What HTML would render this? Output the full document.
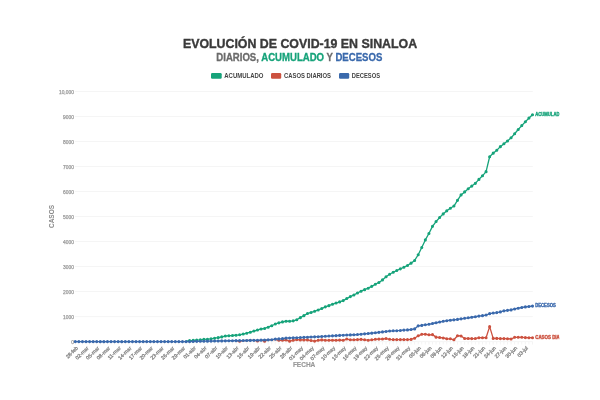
<!DOCTYPE html>
<html><head><meta charset="utf-8"><style>
html,body{margin:0;padding:0;background:#fff;width:600px;height:400px;overflow:hidden}
svg{display:block;will-change:transform}
text{font-family:"Liberation Sans", sans-serif}
</style></head><body>
<svg width="600" height="400" viewBox="0 0 600 400">
<rect width="600" height="400" fill="#fff"/>
<text x="300" y="47.8" text-anchor="middle" font-size="13.7" font-weight="bold" fill="#3a3a3a" stroke="#3a3a3a" stroke-width="0.4" textLength="234.2" lengthAdjust="spacingAndGlyphs">EVOLUCIÓN DE COVID-19 EN SINALOA</text>
<text x="216.3" y="61.4" font-size="10.3" font-weight="bold" fill="#6b6b6b" stroke="#6b6b6b" stroke-width="0.3" textLength="166" lengthAdjust="spacingAndGlyphs">DIARIOS, <tspan fill="#16A37A" stroke="#16A37A">ACUMULADO</tspan> Y <tspan fill="#3A69AC" stroke="#3A69AC">DECESOS</tspan></text>
<rect x="211" y="73" width="10.7" height="5.7" rx="1.2" fill="#16A37A"/>
<rect x="271" y="73" width="10.2" height="5.7" rx="1.2" fill="#CC513F"/>
<rect x="339" y="73" width="10.2" height="5.7" rx="1.2" fill="#3A69AC"/>
<text x="224.3" y="78.3" font-size="6.6" font-weight="bold" fill="#444" textLength="39.2" lengthAdjust="spacingAndGlyphs">ACUMULADO</text>
<text x="284" y="78.3" font-size="6.6" font-weight="bold" fill="#444" textLength="47" lengthAdjust="spacingAndGlyphs">CASOS DIARIOS</text>
<text x="351.8" y="78.3" font-size="6.6" font-weight="bold" fill="#444" textLength="28.2" lengthAdjust="spacingAndGlyphs">DECESOS</text>
<text transform="translate(54,216.5) rotate(-90)" text-anchor="middle" font-size="7.4" font-weight="bold" fill="#8a8a8a" textLength="23" lengthAdjust="spacingAndGlyphs">CASOS</text>
<text x="292.9" y="366.8" font-size="7.6" font-weight="bold" fill="#999" stroke="#999" stroke-width="0.2" textLength="22.4" lengthAdjust="spacingAndGlyphs">FECHA</text>
<line x1="75" y1="341.62" x2="532.8" y2="341.62" stroke="#f5f5f5" stroke-width="1"/>
<line x1="75" y1="316.60" x2="532.8" y2="316.60" stroke="#f5f5f5" stroke-width="1"/>
<line x1="75" y1="291.59" x2="532.8" y2="291.59" stroke="#f5f5f5" stroke-width="1"/>
<line x1="75" y1="266.57" x2="532.8" y2="266.57" stroke="#f5f5f5" stroke-width="1"/>
<line x1="75" y1="241.55" x2="532.8" y2="241.55" stroke="#f5f5f5" stroke-width="1"/>
<line x1="75" y1="216.53" x2="532.8" y2="216.53" stroke="#f5f5f5" stroke-width="1"/>
<line x1="75" y1="191.52" x2="532.8" y2="191.52" stroke="#f5f5f5" stroke-width="1"/>
<line x1="75" y1="166.50" x2="532.8" y2="166.50" stroke="#f5f5f5" stroke-width="1"/>
<line x1="75" y1="141.48" x2="532.8" y2="141.48" stroke="#f5f5f5" stroke-width="1"/>
<line x1="75" y1="116.47" x2="532.8" y2="116.47" stroke="#f5f5f5" stroke-width="1"/>
<line x1="75" y1="91.45" x2="532.8" y2="91.45" stroke="#f5f5f5" stroke-width="1"/>
<text x="73.9" y="344.12" text-anchor="end" font-size="4.9" fill="#9a9a9a" stroke="#9a9a9a" stroke-width="0.25">0</text>
<text x="73.9" y="319.10" text-anchor="end" font-size="4.9" fill="#9a9a9a" stroke="#9a9a9a" stroke-width="0.25">1000</text>
<text x="73.9" y="294.09" text-anchor="end" font-size="4.9" fill="#9a9a9a" stroke="#9a9a9a" stroke-width="0.25">2000</text>
<text x="73.9" y="269.07" text-anchor="end" font-size="4.9" fill="#9a9a9a" stroke="#9a9a9a" stroke-width="0.25">3000</text>
<text x="73.9" y="244.05" text-anchor="end" font-size="4.9" fill="#9a9a9a" stroke="#9a9a9a" stroke-width="0.25">4000</text>
<text x="73.9" y="219.03" text-anchor="end" font-size="4.9" fill="#9a9a9a" stroke="#9a9a9a" stroke-width="0.25">5000</text>
<text x="73.9" y="194.02" text-anchor="end" font-size="4.9" fill="#9a9a9a" stroke="#9a9a9a" stroke-width="0.25">6000</text>
<text x="73.9" y="169.00" text-anchor="end" font-size="4.9" fill="#9a9a9a" stroke="#9a9a9a" stroke-width="0.25">7000</text>
<text x="73.9" y="143.98" text-anchor="end" font-size="4.9" fill="#9a9a9a" stroke="#9a9a9a" stroke-width="0.25">8000</text>
<text x="73.9" y="118.97" text-anchor="end" font-size="4.9" fill="#9a9a9a" stroke="#9a9a9a" stroke-width="0.25">9000</text>
<text x="73.9" y="93.95" text-anchor="end" font-size="4.9" fill="#9a9a9a" stroke="#9a9a9a" stroke-width="0.25">10,000</text>
<line x1="75.30" y1="342.0" x2="75.30" y2="344.5" stroke="#ececec" stroke-width="0.6"/>
<line x1="78.87" y1="342.0" x2="78.87" y2="344.5" stroke="#ececec" stroke-width="0.6"/>
<line x1="82.44" y1="342.0" x2="82.44" y2="344.5" stroke="#ececec" stroke-width="0.6"/>
<line x1="86.02" y1="342.0" x2="86.02" y2="344.5" stroke="#ececec" stroke-width="0.6"/>
<line x1="89.59" y1="342.0" x2="89.59" y2="344.5" stroke="#ececec" stroke-width="0.6"/>
<line x1="93.16" y1="342.0" x2="93.16" y2="344.5" stroke="#ececec" stroke-width="0.6"/>
<line x1="96.73" y1="342.0" x2="96.73" y2="344.5" stroke="#ececec" stroke-width="0.6"/>
<line x1="100.30" y1="342.0" x2="100.30" y2="344.5" stroke="#ececec" stroke-width="0.6"/>
<line x1="103.88" y1="342.0" x2="103.88" y2="344.5" stroke="#ececec" stroke-width="0.6"/>
<line x1="107.45" y1="342.0" x2="107.45" y2="344.5" stroke="#ececec" stroke-width="0.6"/>
<line x1="111.02" y1="342.0" x2="111.02" y2="344.5" stroke="#ececec" stroke-width="0.6"/>
<line x1="114.59" y1="342.0" x2="114.59" y2="344.5" stroke="#ececec" stroke-width="0.6"/>
<line x1="118.16" y1="342.0" x2="118.16" y2="344.5" stroke="#ececec" stroke-width="0.6"/>
<line x1="121.73" y1="342.0" x2="121.73" y2="344.5" stroke="#ececec" stroke-width="0.6"/>
<line x1="125.31" y1="342.0" x2="125.31" y2="344.5" stroke="#ececec" stroke-width="0.6"/>
<line x1="128.88" y1="342.0" x2="128.88" y2="344.5" stroke="#ececec" stroke-width="0.6"/>
<line x1="132.45" y1="342.0" x2="132.45" y2="344.5" stroke="#ececec" stroke-width="0.6"/>
<line x1="136.02" y1="342.0" x2="136.02" y2="344.5" stroke="#ececec" stroke-width="0.6"/>
<line x1="139.59" y1="342.0" x2="139.59" y2="344.5" stroke="#ececec" stroke-width="0.6"/>
<line x1="143.17" y1="342.0" x2="143.17" y2="344.5" stroke="#ececec" stroke-width="0.6"/>
<line x1="146.74" y1="342.0" x2="146.74" y2="344.5" stroke="#ececec" stroke-width="0.6"/>
<line x1="150.31" y1="342.0" x2="150.31" y2="344.5" stroke="#ececec" stroke-width="0.6"/>
<line x1="153.88" y1="342.0" x2="153.88" y2="344.5" stroke="#ececec" stroke-width="0.6"/>
<line x1="157.45" y1="342.0" x2="157.45" y2="344.5" stroke="#ececec" stroke-width="0.6"/>
<line x1="161.02" y1="342.0" x2="161.02" y2="344.5" stroke="#ececec" stroke-width="0.6"/>
<line x1="164.60" y1="342.0" x2="164.60" y2="344.5" stroke="#ececec" stroke-width="0.6"/>
<line x1="168.17" y1="342.0" x2="168.17" y2="344.5" stroke="#ececec" stroke-width="0.6"/>
<line x1="171.74" y1="342.0" x2="171.74" y2="344.5" stroke="#ececec" stroke-width="0.6"/>
<line x1="175.31" y1="342.0" x2="175.31" y2="344.5" stroke="#ececec" stroke-width="0.6"/>
<line x1="178.88" y1="342.0" x2="178.88" y2="344.5" stroke="#ececec" stroke-width="0.6"/>
<line x1="182.46" y1="342.0" x2="182.46" y2="344.5" stroke="#ececec" stroke-width="0.6"/>
<line x1="186.03" y1="342.0" x2="186.03" y2="344.5" stroke="#ececec" stroke-width="0.6"/>
<line x1="189.60" y1="342.0" x2="189.60" y2="344.5" stroke="#ececec" stroke-width="0.6"/>
<line x1="193.17" y1="342.0" x2="193.17" y2="344.5" stroke="#ececec" stroke-width="0.6"/>
<line x1="196.74" y1="342.0" x2="196.74" y2="344.5" stroke="#ececec" stroke-width="0.6"/>
<line x1="200.32" y1="342.0" x2="200.32" y2="344.5" stroke="#ececec" stroke-width="0.6"/>
<line x1="203.89" y1="342.0" x2="203.89" y2="344.5" stroke="#ececec" stroke-width="0.6"/>
<line x1="207.46" y1="342.0" x2="207.46" y2="344.5" stroke="#ececec" stroke-width="0.6"/>
<line x1="211.03" y1="342.0" x2="211.03" y2="344.5" stroke="#ececec" stroke-width="0.6"/>
<line x1="214.60" y1="342.0" x2="214.60" y2="344.5" stroke="#ececec" stroke-width="0.6"/>
<line x1="218.18" y1="342.0" x2="218.18" y2="344.5" stroke="#ececec" stroke-width="0.6"/>
<line x1="221.75" y1="342.0" x2="221.75" y2="344.5" stroke="#ececec" stroke-width="0.6"/>
<line x1="225.32" y1="342.0" x2="225.32" y2="344.5" stroke="#ececec" stroke-width="0.6"/>
<line x1="228.89" y1="342.0" x2="228.89" y2="344.5" stroke="#ececec" stroke-width="0.6"/>
<line x1="232.46" y1="342.0" x2="232.46" y2="344.5" stroke="#ececec" stroke-width="0.6"/>
<line x1="236.03" y1="342.0" x2="236.03" y2="344.5" stroke="#ececec" stroke-width="0.6"/>
<line x1="239.61" y1="342.0" x2="239.61" y2="344.5" stroke="#ececec" stroke-width="0.6"/>
<line x1="243.18" y1="342.0" x2="243.18" y2="344.5" stroke="#ececec" stroke-width="0.6"/>
<line x1="246.75" y1="342.0" x2="246.75" y2="344.5" stroke="#ececec" stroke-width="0.6"/>
<line x1="250.32" y1="342.0" x2="250.32" y2="344.5" stroke="#ececec" stroke-width="0.6"/>
<line x1="253.89" y1="342.0" x2="253.89" y2="344.5" stroke="#ececec" stroke-width="0.6"/>
<line x1="257.47" y1="342.0" x2="257.47" y2="344.5" stroke="#ececec" stroke-width="0.6"/>
<line x1="261.04" y1="342.0" x2="261.04" y2="344.5" stroke="#ececec" stroke-width="0.6"/>
<line x1="264.61" y1="342.0" x2="264.61" y2="344.5" stroke="#ececec" stroke-width="0.6"/>
<line x1="268.18" y1="342.0" x2="268.18" y2="344.5" stroke="#ececec" stroke-width="0.6"/>
<line x1="271.75" y1="342.0" x2="271.75" y2="344.5" stroke="#ececec" stroke-width="0.6"/>
<line x1="275.32" y1="342.0" x2="275.32" y2="344.5" stroke="#ececec" stroke-width="0.6"/>
<line x1="278.90" y1="342.0" x2="278.90" y2="344.5" stroke="#ececec" stroke-width="0.6"/>
<line x1="282.47" y1="342.0" x2="282.47" y2="344.5" stroke="#ececec" stroke-width="0.6"/>
<line x1="286.04" y1="342.0" x2="286.04" y2="344.5" stroke="#ececec" stroke-width="0.6"/>
<line x1="289.61" y1="342.0" x2="289.61" y2="344.5" stroke="#ececec" stroke-width="0.6"/>
<line x1="293.18" y1="342.0" x2="293.18" y2="344.5" stroke="#ececec" stroke-width="0.6"/>
<line x1="296.76" y1="342.0" x2="296.76" y2="344.5" stroke="#ececec" stroke-width="0.6"/>
<line x1="300.33" y1="342.0" x2="300.33" y2="344.5" stroke="#ececec" stroke-width="0.6"/>
<line x1="303.90" y1="342.0" x2="303.90" y2="344.5" stroke="#ececec" stroke-width="0.6"/>
<line x1="307.47" y1="342.0" x2="307.47" y2="344.5" stroke="#ececec" stroke-width="0.6"/>
<line x1="311.04" y1="342.0" x2="311.04" y2="344.5" stroke="#ececec" stroke-width="0.6"/>
<line x1="314.62" y1="342.0" x2="314.62" y2="344.5" stroke="#ececec" stroke-width="0.6"/>
<line x1="318.19" y1="342.0" x2="318.19" y2="344.5" stroke="#ececec" stroke-width="0.6"/>
<line x1="321.76" y1="342.0" x2="321.76" y2="344.5" stroke="#ececec" stroke-width="0.6"/>
<line x1="325.33" y1="342.0" x2="325.33" y2="344.5" stroke="#ececec" stroke-width="0.6"/>
<line x1="328.90" y1="342.0" x2="328.90" y2="344.5" stroke="#ececec" stroke-width="0.6"/>
<line x1="332.48" y1="342.0" x2="332.48" y2="344.5" stroke="#ececec" stroke-width="0.6"/>
<line x1="336.05" y1="342.0" x2="336.05" y2="344.5" stroke="#ececec" stroke-width="0.6"/>
<line x1="339.62" y1="342.0" x2="339.62" y2="344.5" stroke="#ececec" stroke-width="0.6"/>
<line x1="343.19" y1="342.0" x2="343.19" y2="344.5" stroke="#ececec" stroke-width="0.6"/>
<line x1="346.76" y1="342.0" x2="346.76" y2="344.5" stroke="#ececec" stroke-width="0.6"/>
<line x1="350.33" y1="342.0" x2="350.33" y2="344.5" stroke="#ececec" stroke-width="0.6"/>
<line x1="353.91" y1="342.0" x2="353.91" y2="344.5" stroke="#ececec" stroke-width="0.6"/>
<line x1="357.48" y1="342.0" x2="357.48" y2="344.5" stroke="#ececec" stroke-width="0.6"/>
<line x1="361.05" y1="342.0" x2="361.05" y2="344.5" stroke="#ececec" stroke-width="0.6"/>
<line x1="364.62" y1="342.0" x2="364.62" y2="344.5" stroke="#ececec" stroke-width="0.6"/>
<line x1="368.19" y1="342.0" x2="368.19" y2="344.5" stroke="#ececec" stroke-width="0.6"/>
<line x1="371.77" y1="342.0" x2="371.77" y2="344.5" stroke="#ececec" stroke-width="0.6"/>
<line x1="375.34" y1="342.0" x2="375.34" y2="344.5" stroke="#ececec" stroke-width="0.6"/>
<line x1="378.91" y1="342.0" x2="378.91" y2="344.5" stroke="#ececec" stroke-width="0.6"/>
<line x1="382.48" y1="342.0" x2="382.48" y2="344.5" stroke="#ececec" stroke-width="0.6"/>
<line x1="386.05" y1="342.0" x2="386.05" y2="344.5" stroke="#ececec" stroke-width="0.6"/>
<line x1="389.62" y1="342.0" x2="389.62" y2="344.5" stroke="#ececec" stroke-width="0.6"/>
<line x1="393.20" y1="342.0" x2="393.20" y2="344.5" stroke="#ececec" stroke-width="0.6"/>
<line x1="396.77" y1="342.0" x2="396.77" y2="344.5" stroke="#ececec" stroke-width="0.6"/>
<line x1="400.34" y1="342.0" x2="400.34" y2="344.5" stroke="#ececec" stroke-width="0.6"/>
<line x1="403.91" y1="342.0" x2="403.91" y2="344.5" stroke="#ececec" stroke-width="0.6"/>
<line x1="407.48" y1="342.0" x2="407.48" y2="344.5" stroke="#ececec" stroke-width="0.6"/>
<line x1="411.06" y1="342.0" x2="411.06" y2="344.5" stroke="#ececec" stroke-width="0.6"/>
<line x1="414.63" y1="342.0" x2="414.63" y2="344.5" stroke="#ececec" stroke-width="0.6"/>
<line x1="418.20" y1="342.0" x2="418.20" y2="344.5" stroke="#ececec" stroke-width="0.6"/>
<line x1="421.77" y1="342.0" x2="421.77" y2="344.5" stroke="#ececec" stroke-width="0.6"/>
<line x1="425.34" y1="342.0" x2="425.34" y2="344.5" stroke="#ececec" stroke-width="0.6"/>
<line x1="428.92" y1="342.0" x2="428.92" y2="344.5" stroke="#ececec" stroke-width="0.6"/>
<line x1="432.49" y1="342.0" x2="432.49" y2="344.5" stroke="#ececec" stroke-width="0.6"/>
<line x1="436.06" y1="342.0" x2="436.06" y2="344.5" stroke="#ececec" stroke-width="0.6"/>
<line x1="439.63" y1="342.0" x2="439.63" y2="344.5" stroke="#ececec" stroke-width="0.6"/>
<line x1="443.20" y1="342.0" x2="443.20" y2="344.5" stroke="#ececec" stroke-width="0.6"/>
<line x1="446.77" y1="342.0" x2="446.77" y2="344.5" stroke="#ececec" stroke-width="0.6"/>
<line x1="450.35" y1="342.0" x2="450.35" y2="344.5" stroke="#ececec" stroke-width="0.6"/>
<line x1="453.92" y1="342.0" x2="453.92" y2="344.5" stroke="#ececec" stroke-width="0.6"/>
<line x1="457.49" y1="342.0" x2="457.49" y2="344.5" stroke="#ececec" stroke-width="0.6"/>
<line x1="461.06" y1="342.0" x2="461.06" y2="344.5" stroke="#ececec" stroke-width="0.6"/>
<line x1="464.63" y1="342.0" x2="464.63" y2="344.5" stroke="#ececec" stroke-width="0.6"/>
<line x1="468.21" y1="342.0" x2="468.21" y2="344.5" stroke="#ececec" stroke-width="0.6"/>
<line x1="471.78" y1="342.0" x2="471.78" y2="344.5" stroke="#ececec" stroke-width="0.6"/>
<line x1="475.35" y1="342.0" x2="475.35" y2="344.5" stroke="#ececec" stroke-width="0.6"/>
<line x1="478.92" y1="342.0" x2="478.92" y2="344.5" stroke="#ececec" stroke-width="0.6"/>
<line x1="482.49" y1="342.0" x2="482.49" y2="344.5" stroke="#ececec" stroke-width="0.6"/>
<line x1="486.07" y1="342.0" x2="486.07" y2="344.5" stroke="#ececec" stroke-width="0.6"/>
<line x1="489.64" y1="342.0" x2="489.64" y2="344.5" stroke="#ececec" stroke-width="0.6"/>
<line x1="493.21" y1="342.0" x2="493.21" y2="344.5" stroke="#ececec" stroke-width="0.6"/>
<line x1="496.78" y1="342.0" x2="496.78" y2="344.5" stroke="#ececec" stroke-width="0.6"/>
<line x1="500.35" y1="342.0" x2="500.35" y2="344.5" stroke="#ececec" stroke-width="0.6"/>
<line x1="503.93" y1="342.0" x2="503.93" y2="344.5" stroke="#ececec" stroke-width="0.6"/>
<line x1="507.50" y1="342.0" x2="507.50" y2="344.5" stroke="#ececec" stroke-width="0.6"/>
<line x1="511.07" y1="342.0" x2="511.07" y2="344.5" stroke="#ececec" stroke-width="0.6"/>
<line x1="514.64" y1="342.0" x2="514.64" y2="344.5" stroke="#ececec" stroke-width="0.6"/>
<line x1="518.21" y1="342.0" x2="518.21" y2="344.5" stroke="#ececec" stroke-width="0.6"/>
<line x1="521.78" y1="342.0" x2="521.78" y2="344.5" stroke="#ececec" stroke-width="0.6"/>
<line x1="525.36" y1="342.0" x2="525.36" y2="344.5" stroke="#ececec" stroke-width="0.6"/>
<line x1="528.93" y1="342.0" x2="528.93" y2="344.5" stroke="#ececec" stroke-width="0.6"/>
<line x1="532.50" y1="342.0" x2="532.50" y2="344.5" stroke="#ececec" stroke-width="0.6"/>
<text transform="translate(78.30,348.40) rotate(-45)" text-anchor="end" font-size="5.2" fill="#868686" stroke="#868686" stroke-width="0.3">28-feb</text>
<text transform="translate(89.02,348.40) rotate(-45)" text-anchor="end" font-size="5.2" fill="#868686" stroke="#868686" stroke-width="0.3">02-mar</text>
<text transform="translate(99.73,348.40) rotate(-45)" text-anchor="end" font-size="5.2" fill="#868686" stroke="#868686" stroke-width="0.3">05-mar</text>
<text transform="translate(110.45,348.40) rotate(-45)" text-anchor="end" font-size="5.2" fill="#868686" stroke="#868686" stroke-width="0.3">08-mar</text>
<text transform="translate(121.16,348.40) rotate(-45)" text-anchor="end" font-size="5.2" fill="#868686" stroke="#868686" stroke-width="0.3">11-mar</text>
<text transform="translate(131.88,348.40) rotate(-45)" text-anchor="end" font-size="5.2" fill="#868686" stroke="#868686" stroke-width="0.3">14-mar</text>
<text transform="translate(142.59,348.40) rotate(-45)" text-anchor="end" font-size="5.2" fill="#868686" stroke="#868686" stroke-width="0.3">17-mar</text>
<text transform="translate(153.31,348.40) rotate(-45)" text-anchor="end" font-size="5.2" fill="#868686" stroke="#868686" stroke-width="0.3">20-mar</text>
<text transform="translate(164.02,348.40) rotate(-45)" text-anchor="end" font-size="5.2" fill="#868686" stroke="#868686" stroke-width="0.3">23-mar</text>
<text transform="translate(174.74,348.40) rotate(-45)" text-anchor="end" font-size="5.2" fill="#868686" stroke="#868686" stroke-width="0.3">26-mar</text>
<text transform="translate(185.46,348.40) rotate(-45)" text-anchor="end" font-size="5.2" fill="#868686" stroke="#868686" stroke-width="0.3">29-mar</text>
<text transform="translate(196.17,348.40) rotate(-45)" text-anchor="end" font-size="5.2" fill="#868686" stroke="#868686" stroke-width="0.3">01-abr</text>
<text transform="translate(206.89,348.40) rotate(-45)" text-anchor="end" font-size="5.2" fill="#868686" stroke="#868686" stroke-width="0.3">04-abr</text>
<text transform="translate(217.60,348.40) rotate(-45)" text-anchor="end" font-size="5.2" fill="#868686" stroke="#868686" stroke-width="0.3">07-abr</text>
<text transform="translate(228.32,348.40) rotate(-45)" text-anchor="end" font-size="5.2" fill="#868686" stroke="#868686" stroke-width="0.3">10-abr</text>
<text transform="translate(239.03,348.40) rotate(-45)" text-anchor="end" font-size="5.2" fill="#868686" stroke="#868686" stroke-width="0.3">13-abr</text>
<text transform="translate(249.75,348.40) rotate(-45)" text-anchor="end" font-size="5.2" fill="#868686" stroke="#868686" stroke-width="0.3">16-abr</text>
<text transform="translate(260.47,348.40) rotate(-45)" text-anchor="end" font-size="5.2" fill="#868686" stroke="#868686" stroke-width="0.3">19-abr</text>
<text transform="translate(271.18,348.40) rotate(-45)" text-anchor="end" font-size="5.2" fill="#868686" stroke="#868686" stroke-width="0.3">22-abr</text>
<text transform="translate(281.90,348.40) rotate(-45)" text-anchor="end" font-size="5.2" fill="#868686" stroke="#868686" stroke-width="0.3">25-abr</text>
<text transform="translate(292.61,348.40) rotate(-45)" text-anchor="end" font-size="5.2" fill="#868686" stroke="#868686" stroke-width="0.3">28-abr</text>
<text transform="translate(303.33,348.40) rotate(-45)" text-anchor="end" font-size="5.2" fill="#868686" stroke="#868686" stroke-width="0.3">01-may</text>
<text transform="translate(314.04,348.40) rotate(-45)" text-anchor="end" font-size="5.2" fill="#868686" stroke="#868686" stroke-width="0.3">04-may</text>
<text transform="translate(324.76,348.40) rotate(-45)" text-anchor="end" font-size="5.2" fill="#868686" stroke="#868686" stroke-width="0.3">07-may</text>
<text transform="translate(335.48,348.40) rotate(-45)" text-anchor="end" font-size="5.2" fill="#868686" stroke="#868686" stroke-width="0.3">10-may</text>
<text transform="translate(346.19,348.40) rotate(-45)" text-anchor="end" font-size="5.2" fill="#868686" stroke="#868686" stroke-width="0.3">13-may</text>
<text transform="translate(356.91,348.40) rotate(-45)" text-anchor="end" font-size="5.2" fill="#868686" stroke="#868686" stroke-width="0.3">16-may</text>
<text transform="translate(367.62,348.40) rotate(-45)" text-anchor="end" font-size="5.2" fill="#868686" stroke="#868686" stroke-width="0.3">19-may</text>
<text transform="translate(378.34,348.40) rotate(-45)" text-anchor="end" font-size="5.2" fill="#868686" stroke="#868686" stroke-width="0.3">22-may</text>
<text transform="translate(389.05,348.40) rotate(-45)" text-anchor="end" font-size="5.2" fill="#868686" stroke="#868686" stroke-width="0.3">25-may</text>
<text transform="translate(399.77,348.40) rotate(-45)" text-anchor="end" font-size="5.2" fill="#868686" stroke="#868686" stroke-width="0.3">28-may</text>
<text transform="translate(410.48,348.40) rotate(-45)" text-anchor="end" font-size="5.2" fill="#868686" stroke="#868686" stroke-width="0.3">31-may</text>
<text transform="translate(421.20,348.40) rotate(-45)" text-anchor="end" font-size="5.2" fill="#868686" stroke="#868686" stroke-width="0.3">03-jun</text>
<text transform="translate(431.92,348.40) rotate(-45)" text-anchor="end" font-size="5.2" fill="#868686" stroke="#868686" stroke-width="0.3">06-jun</text>
<text transform="translate(442.63,348.40) rotate(-45)" text-anchor="end" font-size="5.2" fill="#868686" stroke="#868686" stroke-width="0.3">09-jun</text>
<text transform="translate(453.35,348.40) rotate(-45)" text-anchor="end" font-size="5.2" fill="#868686" stroke="#868686" stroke-width="0.3">12-jun</text>
<text transform="translate(464.06,348.40) rotate(-45)" text-anchor="end" font-size="5.2" fill="#868686" stroke="#868686" stroke-width="0.3">15-jun</text>
<text transform="translate(474.78,348.40) rotate(-45)" text-anchor="end" font-size="5.2" fill="#868686" stroke="#868686" stroke-width="0.3">18-jun</text>
<text transform="translate(485.49,348.40) rotate(-45)" text-anchor="end" font-size="5.2" fill="#868686" stroke="#868686" stroke-width="0.3">21-jun</text>
<text transform="translate(496.21,348.40) rotate(-45)" text-anchor="end" font-size="5.2" fill="#868686" stroke="#868686" stroke-width="0.3">24-jun</text>
<text transform="translate(506.93,348.40) rotate(-45)" text-anchor="end" font-size="5.2" fill="#868686" stroke="#868686" stroke-width="0.3">27-jun</text>
<text transform="translate(517.64,348.40) rotate(-45)" text-anchor="end" font-size="5.2" fill="#868686" stroke="#868686" stroke-width="0.3">30-jun</text>
<text transform="translate(528.36,348.40) rotate(-45)" text-anchor="end" font-size="5.2" fill="#868686" stroke="#868686" stroke-width="0.3">03-jul</text>
<path d="M186.03,341.24 L189.60,340.59 L193.17,340.39 L196.74,340.10 L200.32,339.79 L203.89,339.39 L207.46,339.18 L211.03,338.85 L214.60,338.19 L218.18,337.66 L221.75,336.89 L225.32,336.07 L228.89,335.69 L232.46,335.50 L236.03,335.20 L239.61,334.82 L243.18,334.07 L246.75,333.21 L250.32,332.19 L253.89,331.03 L257.47,330.01 L261.04,328.99 L264.61,328.46 L268.18,327.21 L271.75,325.72 L275.32,323.99 L278.90,322.83 L282.47,321.91 L286.04,321.25 L289.61,321.25 L293.18,320.87 L296.76,319.79 L300.33,317.67 L303.90,315.66 L307.47,313.52 L311.04,312.49 L314.62,311.29 L318.19,309.97 L321.76,308.56 L325.33,306.87 L328.90,305.63 L332.48,304.21 L336.05,303.01 L339.62,301.88 L343.19,300.59 L346.76,298.56 L350.33,296.60 L353.91,294.93 L357.48,293.02 L361.05,291.18 L364.62,289.63 L368.19,288.20 L371.77,286.36 L375.34,284.23 L378.91,282.45 L382.48,279.91 L386.05,276.76 L389.62,274.23 L393.20,272.30 L396.77,270.52 L400.34,268.85 L403.91,267.24 L407.48,265.45 L411.06,263.16 L414.63,260.43 L418.20,254.76 L421.77,247.45 L425.34,239.92 L428.92,233.47 L432.49,226.34 L436.06,221.52 L439.63,217.57 L443.20,213.90 L446.77,210.84 L450.35,208.22 L453.92,206.05 L457.49,200.33 L461.06,194.89 L464.63,191.88 L468.21,188.75 L471.78,186.09 L475.35,183.34 L478.92,179.38 L482.49,175.81 L486.07,171.67 L489.64,156.76 L493.21,153.15 L496.78,150.22 L500.35,146.66 L503.93,143.82 L507.50,141.00 L511.07,137.81 L514.64,133.73 L518.21,129.47 L521.78,125.61 L525.36,121.74 L528.93,118.08 L532.50,114.70" fill="none" stroke="#16A37A" stroke-width="1.3" stroke-linejoin="round"/>
<path d="M188.05,340.59a1.55,1.55 0 1,0 3.1,0a1.55,1.55 0 1,0 -3.1,0M191.62,340.39a1.55,1.55 0 1,0 3.1,0a1.55,1.55 0 1,0 -3.1,0M195.19,340.10a1.55,1.55 0 1,0 3.1,0a1.55,1.55 0 1,0 -3.1,0M198.77,339.79a1.55,1.55 0 1,0 3.1,0a1.55,1.55 0 1,0 -3.1,0M202.34,339.39a1.55,1.55 0 1,0 3.1,0a1.55,1.55 0 1,0 -3.1,0M205.91,339.18a1.55,1.55 0 1,0 3.1,0a1.55,1.55 0 1,0 -3.1,0M209.48,338.85a1.55,1.55 0 1,0 3.1,0a1.55,1.55 0 1,0 -3.1,0M213.05,338.19a1.55,1.55 0 1,0 3.1,0a1.55,1.55 0 1,0 -3.1,0M216.62,337.66a1.55,1.55 0 1,0 3.1,0a1.55,1.55 0 1,0 -3.1,0M220.20,336.89a1.55,1.55 0 1,0 3.1,0a1.55,1.55 0 1,0 -3.1,0M223.77,336.07a1.55,1.55 0 1,0 3.1,0a1.55,1.55 0 1,0 -3.1,0M227.34,335.69a1.55,1.55 0 1,0 3.1,0a1.55,1.55 0 1,0 -3.1,0M230.91,335.50a1.55,1.55 0 1,0 3.1,0a1.55,1.55 0 1,0 -3.1,0M234.48,335.20a1.55,1.55 0 1,0 3.1,0a1.55,1.55 0 1,0 -3.1,0M238.06,334.82a1.55,1.55 0 1,0 3.1,0a1.55,1.55 0 1,0 -3.1,0M241.63,334.07a1.55,1.55 0 1,0 3.1,0a1.55,1.55 0 1,0 -3.1,0M245.20,333.21a1.55,1.55 0 1,0 3.1,0a1.55,1.55 0 1,0 -3.1,0M248.77,332.19a1.55,1.55 0 1,0 3.1,0a1.55,1.55 0 1,0 -3.1,0M252.34,331.03a1.55,1.55 0 1,0 3.1,0a1.55,1.55 0 1,0 -3.1,0M255.92,330.01a1.55,1.55 0 1,0 3.1,0a1.55,1.55 0 1,0 -3.1,0M259.49,328.99a1.55,1.55 0 1,0 3.1,0a1.55,1.55 0 1,0 -3.1,0M263.06,328.46a1.55,1.55 0 1,0 3.1,0a1.55,1.55 0 1,0 -3.1,0M266.63,327.21a1.55,1.55 0 1,0 3.1,0a1.55,1.55 0 1,0 -3.1,0M270.20,325.72a1.55,1.55 0 1,0 3.1,0a1.55,1.55 0 1,0 -3.1,0M273.77,323.99a1.55,1.55 0 1,0 3.1,0a1.55,1.55 0 1,0 -3.1,0M277.35,322.83a1.55,1.55 0 1,0 3.1,0a1.55,1.55 0 1,0 -3.1,0M280.92,321.91a1.55,1.55 0 1,0 3.1,0a1.55,1.55 0 1,0 -3.1,0M284.49,321.25a1.55,1.55 0 1,0 3.1,0a1.55,1.55 0 1,0 -3.1,0M288.06,321.25a1.55,1.55 0 1,0 3.1,0a1.55,1.55 0 1,0 -3.1,0M291.63,320.87a1.55,1.55 0 1,0 3.1,0a1.55,1.55 0 1,0 -3.1,0M295.21,319.79a1.55,1.55 0 1,0 3.1,0a1.55,1.55 0 1,0 -3.1,0M298.78,317.67a1.55,1.55 0 1,0 3.1,0a1.55,1.55 0 1,0 -3.1,0M302.35,315.66a1.55,1.55 0 1,0 3.1,0a1.55,1.55 0 1,0 -3.1,0M305.92,313.52a1.55,1.55 0 1,0 3.1,0a1.55,1.55 0 1,0 -3.1,0M309.49,312.49a1.55,1.55 0 1,0 3.1,0a1.55,1.55 0 1,0 -3.1,0M313.07,311.29a1.55,1.55 0 1,0 3.1,0a1.55,1.55 0 1,0 -3.1,0M316.64,309.97a1.55,1.55 0 1,0 3.1,0a1.55,1.55 0 1,0 -3.1,0M320.21,308.56a1.55,1.55 0 1,0 3.1,0a1.55,1.55 0 1,0 -3.1,0M323.78,306.87a1.55,1.55 0 1,0 3.1,0a1.55,1.55 0 1,0 -3.1,0M327.35,305.63a1.55,1.55 0 1,0 3.1,0a1.55,1.55 0 1,0 -3.1,0M330.93,304.21a1.55,1.55 0 1,0 3.1,0a1.55,1.55 0 1,0 -3.1,0M334.50,303.01a1.55,1.55 0 1,0 3.1,0a1.55,1.55 0 1,0 -3.1,0M338.07,301.88a1.55,1.55 0 1,0 3.1,0a1.55,1.55 0 1,0 -3.1,0M341.64,300.59a1.55,1.55 0 1,0 3.1,0a1.55,1.55 0 1,0 -3.1,0M345.21,298.56a1.55,1.55 0 1,0 3.1,0a1.55,1.55 0 1,0 -3.1,0M348.78,296.60a1.55,1.55 0 1,0 3.1,0a1.55,1.55 0 1,0 -3.1,0M352.36,294.93a1.55,1.55 0 1,0 3.1,0a1.55,1.55 0 1,0 -3.1,0M355.93,293.02a1.55,1.55 0 1,0 3.1,0a1.55,1.55 0 1,0 -3.1,0M359.50,291.18a1.55,1.55 0 1,0 3.1,0a1.55,1.55 0 1,0 -3.1,0M363.07,289.63a1.55,1.55 0 1,0 3.1,0a1.55,1.55 0 1,0 -3.1,0M366.64,288.20a1.55,1.55 0 1,0 3.1,0a1.55,1.55 0 1,0 -3.1,0M370.22,286.36a1.55,1.55 0 1,0 3.1,0a1.55,1.55 0 1,0 -3.1,0M373.79,284.23a1.55,1.55 0 1,0 3.1,0a1.55,1.55 0 1,0 -3.1,0M377.36,282.45a1.55,1.55 0 1,0 3.1,0a1.55,1.55 0 1,0 -3.1,0M380.93,279.91a1.55,1.55 0 1,0 3.1,0a1.55,1.55 0 1,0 -3.1,0M384.50,276.76a1.55,1.55 0 1,0 3.1,0a1.55,1.55 0 1,0 -3.1,0M388.07,274.23a1.55,1.55 0 1,0 3.1,0a1.55,1.55 0 1,0 -3.1,0M391.65,272.30a1.55,1.55 0 1,0 3.1,0a1.55,1.55 0 1,0 -3.1,0M395.22,270.52a1.55,1.55 0 1,0 3.1,0a1.55,1.55 0 1,0 -3.1,0M398.79,268.85a1.55,1.55 0 1,0 3.1,0a1.55,1.55 0 1,0 -3.1,0M402.36,267.24a1.55,1.55 0 1,0 3.1,0a1.55,1.55 0 1,0 -3.1,0M405.93,265.45a1.55,1.55 0 1,0 3.1,0a1.55,1.55 0 1,0 -3.1,0M409.51,263.16a1.55,1.55 0 1,0 3.1,0a1.55,1.55 0 1,0 -3.1,0M413.08,260.43a1.55,1.55 0 1,0 3.1,0a1.55,1.55 0 1,0 -3.1,0M416.65,254.76a1.55,1.55 0 1,0 3.1,0a1.55,1.55 0 1,0 -3.1,0M420.22,247.45a1.55,1.55 0 1,0 3.1,0a1.55,1.55 0 1,0 -3.1,0M423.79,239.92a1.55,1.55 0 1,0 3.1,0a1.55,1.55 0 1,0 -3.1,0M427.37,233.47a1.55,1.55 0 1,0 3.1,0a1.55,1.55 0 1,0 -3.1,0M430.94,226.34a1.55,1.55 0 1,0 3.1,0a1.55,1.55 0 1,0 -3.1,0M434.51,221.52a1.55,1.55 0 1,0 3.1,0a1.55,1.55 0 1,0 -3.1,0M438.08,217.57a1.55,1.55 0 1,0 3.1,0a1.55,1.55 0 1,0 -3.1,0M441.65,213.90a1.55,1.55 0 1,0 3.1,0a1.55,1.55 0 1,0 -3.1,0M445.22,210.84a1.55,1.55 0 1,0 3.1,0a1.55,1.55 0 1,0 -3.1,0M448.80,208.22a1.55,1.55 0 1,0 3.1,0a1.55,1.55 0 1,0 -3.1,0M452.37,206.05a1.55,1.55 0 1,0 3.1,0a1.55,1.55 0 1,0 -3.1,0M455.94,200.33a1.55,1.55 0 1,0 3.1,0a1.55,1.55 0 1,0 -3.1,0M459.51,194.89a1.55,1.55 0 1,0 3.1,0a1.55,1.55 0 1,0 -3.1,0M463.08,191.88a1.55,1.55 0 1,0 3.1,0a1.55,1.55 0 1,0 -3.1,0M466.66,188.75a1.55,1.55 0 1,0 3.1,0a1.55,1.55 0 1,0 -3.1,0M470.23,186.09a1.55,1.55 0 1,0 3.1,0a1.55,1.55 0 1,0 -3.1,0M473.80,183.34a1.55,1.55 0 1,0 3.1,0a1.55,1.55 0 1,0 -3.1,0M477.37,179.38a1.55,1.55 0 1,0 3.1,0a1.55,1.55 0 1,0 -3.1,0M480.94,175.81a1.55,1.55 0 1,0 3.1,0a1.55,1.55 0 1,0 -3.1,0M484.52,171.67a1.55,1.55 0 1,0 3.1,0a1.55,1.55 0 1,0 -3.1,0M488.09,156.76a1.55,1.55 0 1,0 3.1,0a1.55,1.55 0 1,0 -3.1,0M491.66,153.15a1.55,1.55 0 1,0 3.1,0a1.55,1.55 0 1,0 -3.1,0M495.23,150.22a1.55,1.55 0 1,0 3.1,0a1.55,1.55 0 1,0 -3.1,0M498.80,146.66a1.55,1.55 0 1,0 3.1,0a1.55,1.55 0 1,0 -3.1,0M502.38,143.82a1.55,1.55 0 1,0 3.1,0a1.55,1.55 0 1,0 -3.1,0M505.95,141.00a1.55,1.55 0 1,0 3.1,0a1.55,1.55 0 1,0 -3.1,0M509.52,137.81a1.55,1.55 0 1,0 3.1,0a1.55,1.55 0 1,0 -3.1,0M513.09,133.73a1.55,1.55 0 1,0 3.1,0a1.55,1.55 0 1,0 -3.1,0M516.66,129.47a1.55,1.55 0 1,0 3.1,0a1.55,1.55 0 1,0 -3.1,0M520.23,125.61a1.55,1.55 0 1,0 3.1,0a1.55,1.55 0 1,0 -3.1,0M523.81,121.74a1.55,1.55 0 1,0 3.1,0a1.55,1.55 0 1,0 -3.1,0M527.38,118.08a1.55,1.55 0 1,0 3.1,0a1.55,1.55 0 1,0 -3.1,0M530.95,114.70a1.55,1.55 0 1,0 3.1,0a1.55,1.55 0 1,0 -3.1,0" fill="#16A37A"/>
<path d="M236.03,340.65 L239.61,341.30 L243.18,340.54 L246.75,340.48 L250.32,340.42 L253.89,340.37 L257.47,341.01 L261.04,340.16 L264.61,341.20 L268.18,339.85 L271.75,339.69 L275.32,339.60 L278.90,340.30 L282.47,340.29 L286.04,340.01 L289.61,341.17 L293.18,340.30 L296.76,339.61 L300.33,339.90 L303.90,339.90 L307.47,339.90 L311.04,340.54 L314.62,341.10 L318.19,340.32 L321.76,339.91 L325.33,340.21 L328.90,340.29 L332.48,340.20 L336.05,340.29 L339.62,340.12 L343.19,340.27 L346.76,339.02 L350.33,339.80 L353.91,339.77 L357.48,339.60 L361.05,339.33 L364.62,339.80 L368.19,340.19 L371.77,339.79 L375.34,339.31 L378.91,339.12 L382.48,339.00 L386.05,338.55 L389.62,339.32 L393.20,339.60 L396.77,339.60 L400.34,339.60 L403.91,339.60 L407.48,339.59 L411.06,339.38 L414.63,338.21 L418.20,335.81 L421.77,334.30 L425.34,334.20 L428.92,334.79 L432.49,334.60 L436.06,337.13 L439.63,337.50 L443.20,337.97 L446.77,338.75 L450.35,338.80 L453.92,339.80 L457.49,335.71 L461.06,335.99 L464.63,338.50 L468.21,338.50 L471.78,338.60 L475.35,338.56 L478.92,337.70 L482.49,337.70 L486.07,337.68 L489.64,326.67 L493.21,338.40 L496.78,338.42 L500.35,338.60 L503.93,338.60 L507.50,338.71 L511.07,338.97 L514.64,337.30 L518.21,337.30 L521.78,337.31 L525.36,337.60 L528.93,337.70 L532.50,337.70" fill="none" stroke="#CC513F" stroke-width="1.3" stroke-linejoin="round"/>
<path d="M238.06,341.30a1.55,1.55 0 1,0 3.1,0a1.55,1.55 0 1,0 -3.1,0M255.92,341.01a1.55,1.55 0 1,0 3.1,0a1.55,1.55 0 1,0 -3.1,0M263.06,341.20a1.55,1.55 0 1,0 3.1,0a1.55,1.55 0 1,0 -3.1,0M277.35,340.30a1.55,1.55 0 1,0 3.1,0a1.55,1.55 0 1,0 -3.1,0M280.92,340.29a1.55,1.55 0 1,0 3.1,0a1.55,1.55 0 1,0 -3.1,0M284.49,340.01a1.55,1.55 0 1,0 3.1,0a1.55,1.55 0 1,0 -3.1,0M288.06,341.17a1.55,1.55 0 1,0 3.1,0a1.55,1.55 0 1,0 -3.1,0M291.63,340.30a1.55,1.55 0 1,0 3.1,0a1.55,1.55 0 1,0 -3.1,0M295.21,339.61a1.55,1.55 0 1,0 3.1,0a1.55,1.55 0 1,0 -3.1,0M298.78,339.90a1.55,1.55 0 1,0 3.1,0a1.55,1.55 0 1,0 -3.1,0M302.35,339.90a1.55,1.55 0 1,0 3.1,0a1.55,1.55 0 1,0 -3.1,0M305.92,339.90a1.55,1.55 0 1,0 3.1,0a1.55,1.55 0 1,0 -3.1,0M309.49,340.54a1.55,1.55 0 1,0 3.1,0a1.55,1.55 0 1,0 -3.1,0M313.07,341.10a1.55,1.55 0 1,0 3.1,0a1.55,1.55 0 1,0 -3.1,0M316.64,340.32a1.55,1.55 0 1,0 3.1,0a1.55,1.55 0 1,0 -3.1,0M320.21,339.91a1.55,1.55 0 1,0 3.1,0a1.55,1.55 0 1,0 -3.1,0M323.78,340.21a1.55,1.55 0 1,0 3.1,0a1.55,1.55 0 1,0 -3.1,0M327.35,340.29a1.55,1.55 0 1,0 3.1,0a1.55,1.55 0 1,0 -3.1,0M330.93,340.20a1.55,1.55 0 1,0 3.1,0a1.55,1.55 0 1,0 -3.1,0M334.50,340.29a1.55,1.55 0 1,0 3.1,0a1.55,1.55 0 1,0 -3.1,0M338.07,340.12a1.55,1.55 0 1,0 3.1,0a1.55,1.55 0 1,0 -3.1,0M341.64,340.27a1.55,1.55 0 1,0 3.1,0a1.55,1.55 0 1,0 -3.1,0M345.21,339.02a1.55,1.55 0 1,0 3.1,0a1.55,1.55 0 1,0 -3.1,0M348.78,339.80a1.55,1.55 0 1,0 3.1,0a1.55,1.55 0 1,0 -3.1,0M352.36,339.77a1.55,1.55 0 1,0 3.1,0a1.55,1.55 0 1,0 -3.1,0M355.93,339.60a1.55,1.55 0 1,0 3.1,0a1.55,1.55 0 1,0 -3.1,0M359.50,339.33a1.55,1.55 0 1,0 3.1,0a1.55,1.55 0 1,0 -3.1,0M363.07,339.80a1.55,1.55 0 1,0 3.1,0a1.55,1.55 0 1,0 -3.1,0M366.64,340.19a1.55,1.55 0 1,0 3.1,0a1.55,1.55 0 1,0 -3.1,0M370.22,339.79a1.55,1.55 0 1,0 3.1,0a1.55,1.55 0 1,0 -3.1,0M373.79,339.31a1.55,1.55 0 1,0 3.1,0a1.55,1.55 0 1,0 -3.1,0M377.36,339.12a1.55,1.55 0 1,0 3.1,0a1.55,1.55 0 1,0 -3.1,0M380.93,339.00a1.55,1.55 0 1,0 3.1,0a1.55,1.55 0 1,0 -3.1,0M384.50,338.55a1.55,1.55 0 1,0 3.1,0a1.55,1.55 0 1,0 -3.1,0M388.07,339.32a1.55,1.55 0 1,0 3.1,0a1.55,1.55 0 1,0 -3.1,0M391.65,339.60a1.55,1.55 0 1,0 3.1,0a1.55,1.55 0 1,0 -3.1,0M395.22,339.60a1.55,1.55 0 1,0 3.1,0a1.55,1.55 0 1,0 -3.1,0M398.79,339.60a1.55,1.55 0 1,0 3.1,0a1.55,1.55 0 1,0 -3.1,0M402.36,339.60a1.55,1.55 0 1,0 3.1,0a1.55,1.55 0 1,0 -3.1,0M405.93,339.59a1.55,1.55 0 1,0 3.1,0a1.55,1.55 0 1,0 -3.1,0M409.51,339.38a1.55,1.55 0 1,0 3.1,0a1.55,1.55 0 1,0 -3.1,0M413.08,338.21a1.55,1.55 0 1,0 3.1,0a1.55,1.55 0 1,0 -3.1,0M416.65,335.81a1.55,1.55 0 1,0 3.1,0a1.55,1.55 0 1,0 -3.1,0M420.22,334.30a1.55,1.55 0 1,0 3.1,0a1.55,1.55 0 1,0 -3.1,0M423.79,334.20a1.55,1.55 0 1,0 3.1,0a1.55,1.55 0 1,0 -3.1,0M427.37,334.79a1.55,1.55 0 1,0 3.1,0a1.55,1.55 0 1,0 -3.1,0M430.94,334.60a1.55,1.55 0 1,0 3.1,0a1.55,1.55 0 1,0 -3.1,0M434.51,337.13a1.55,1.55 0 1,0 3.1,0a1.55,1.55 0 1,0 -3.1,0M438.08,337.50a1.55,1.55 0 1,0 3.1,0a1.55,1.55 0 1,0 -3.1,0M441.65,337.97a1.55,1.55 0 1,0 3.1,0a1.55,1.55 0 1,0 -3.1,0M445.22,338.75a1.55,1.55 0 1,0 3.1,0a1.55,1.55 0 1,0 -3.1,0M448.80,338.80a1.55,1.55 0 1,0 3.1,0a1.55,1.55 0 1,0 -3.1,0M452.37,339.80a1.55,1.55 0 1,0 3.1,0a1.55,1.55 0 1,0 -3.1,0M455.94,335.71a1.55,1.55 0 1,0 3.1,0a1.55,1.55 0 1,0 -3.1,0M459.51,335.99a1.55,1.55 0 1,0 3.1,0a1.55,1.55 0 1,0 -3.1,0M463.08,338.50a1.55,1.55 0 1,0 3.1,0a1.55,1.55 0 1,0 -3.1,0M466.66,338.50a1.55,1.55 0 1,0 3.1,0a1.55,1.55 0 1,0 -3.1,0M470.23,338.60a1.55,1.55 0 1,0 3.1,0a1.55,1.55 0 1,0 -3.1,0M473.80,338.56a1.55,1.55 0 1,0 3.1,0a1.55,1.55 0 1,0 -3.1,0M477.37,337.70a1.55,1.55 0 1,0 3.1,0a1.55,1.55 0 1,0 -3.1,0M480.94,337.70a1.55,1.55 0 1,0 3.1,0a1.55,1.55 0 1,0 -3.1,0M484.52,337.68a1.55,1.55 0 1,0 3.1,0a1.55,1.55 0 1,0 -3.1,0M488.09,326.67a1.55,1.55 0 1,0 3.1,0a1.55,1.55 0 1,0 -3.1,0M491.66,338.40a1.55,1.55 0 1,0 3.1,0a1.55,1.55 0 1,0 -3.1,0M495.23,338.42a1.55,1.55 0 1,0 3.1,0a1.55,1.55 0 1,0 -3.1,0M498.80,338.60a1.55,1.55 0 1,0 3.1,0a1.55,1.55 0 1,0 -3.1,0M502.38,338.60a1.55,1.55 0 1,0 3.1,0a1.55,1.55 0 1,0 -3.1,0M505.95,338.71a1.55,1.55 0 1,0 3.1,0a1.55,1.55 0 1,0 -3.1,0M509.52,338.97a1.55,1.55 0 1,0 3.1,0a1.55,1.55 0 1,0 -3.1,0M513.09,337.30a1.55,1.55 0 1,0 3.1,0a1.55,1.55 0 1,0 -3.1,0M516.66,337.30a1.55,1.55 0 1,0 3.1,0a1.55,1.55 0 1,0 -3.1,0M520.23,337.31a1.55,1.55 0 1,0 3.1,0a1.55,1.55 0 1,0 -3.1,0M523.81,337.60a1.55,1.55 0 1,0 3.1,0a1.55,1.55 0 1,0 -3.1,0M527.38,337.70a1.55,1.55 0 1,0 3.1,0a1.55,1.55 0 1,0 -3.1,0M530.95,337.70a1.55,1.55 0 1,0 3.1,0a1.55,1.55 0 1,0 -3.1,0" fill="#CC513F"/>
<path d="M75.30,341.62 L78.87,341.62 L82.44,341.62 L86.02,341.62 L89.59,341.62 L93.16,341.62 L96.73,341.62 L100.30,341.62 L103.88,341.62 L107.45,341.62 L111.02,341.62 L114.59,341.62 L118.16,341.62 L121.73,341.62 L125.31,341.62 L128.88,341.62 L132.45,341.62 L136.02,341.62 L139.59,341.62 L143.17,341.62 L146.74,341.62 L150.31,341.62 L153.88,341.62 L157.45,341.62 L161.02,341.62 L164.60,341.62 L168.17,341.62 L171.74,341.62 L175.31,341.62 L178.88,341.62 L182.46,341.62 L186.03,341.62 L189.60,341.62 L193.17,341.45 L196.74,341.37 L200.32,341.30 L203.89,341.22 L207.46,341.16 L211.03,341.09 L214.60,341.03 L218.18,340.96 L221.75,340.90 L225.32,340.83 L228.89,340.77 L232.46,340.71 L236.03,340.65 L239.61,340.60 L243.18,340.54 L246.75,340.48 L250.32,340.42 L253.89,340.37 L257.47,340.31 L261.04,340.16 L264.61,340.00 L268.18,339.85 L271.75,339.69 L275.32,339.10 L278.90,338.89 L282.47,338.67 L286.04,338.10 L289.61,337.96 L293.18,337.83 L296.76,337.70 L300.33,337.53 L303.90,337.36 L307.47,337.19 L311.04,337.02 L314.62,336.85 L318.19,336.69 L321.76,336.49 L325.33,336.28 L328.90,336.07 L332.48,335.85 L336.05,335.64 L339.62,335.42 L343.19,335.21 L346.76,335.03 L350.33,334.88 L353.91,334.73 L357.48,334.55 L361.05,334.21 L364.62,333.86 L368.19,333.52 L371.77,333.17 L375.34,332.76 L378.91,332.33 L382.48,331.90 L386.05,331.47 L389.62,331.05 L393.20,330.79 L396.77,330.70 L400.34,330.47 L403.91,330.10 L407.48,329.88 L411.06,329.49 L414.63,328.89 L418.20,325.87 L421.77,325.39 L425.34,324.70 L428.92,324.31 L432.49,323.50 L436.06,322.76 L439.63,322.02 L443.20,321.27 L446.77,320.69 L450.35,320.26 L453.92,319.83 L457.49,319.40 L461.06,318.86 L464.63,318.32 L468.21,317.77 L471.78,317.25 L475.35,316.74 L478.92,316.10 L482.49,315.66 L486.07,315.05 L489.64,313.66 L493.21,313.06 L496.78,312.61 L500.35,311.89 L503.93,310.86 L507.50,310.37 L511.07,309.88 L514.64,308.99 L518.21,308.22 L521.78,307.50 L525.36,306.88 L528.93,306.50 L532.50,306.10" fill="none" stroke="#3A69AC" stroke-width="1.3" stroke-linejoin="round"/>
<path d="M73.75,341.62a1.55,1.55 0 1,0 3.1,0a1.55,1.55 0 1,0 -3.1,0M77.32,341.62a1.55,1.55 0 1,0 3.1,0a1.55,1.55 0 1,0 -3.1,0M80.89,341.62a1.55,1.55 0 1,0 3.1,0a1.55,1.55 0 1,0 -3.1,0M84.47,341.62a1.55,1.55 0 1,0 3.1,0a1.55,1.55 0 1,0 -3.1,0M88.04,341.62a1.55,1.55 0 1,0 3.1,0a1.55,1.55 0 1,0 -3.1,0M91.61,341.62a1.55,1.55 0 1,0 3.1,0a1.55,1.55 0 1,0 -3.1,0M95.18,341.62a1.55,1.55 0 1,0 3.1,0a1.55,1.55 0 1,0 -3.1,0M98.75,341.62a1.55,1.55 0 1,0 3.1,0a1.55,1.55 0 1,0 -3.1,0M102.33,341.62a1.55,1.55 0 1,0 3.1,0a1.55,1.55 0 1,0 -3.1,0M105.90,341.62a1.55,1.55 0 1,0 3.1,0a1.55,1.55 0 1,0 -3.1,0M109.47,341.62a1.55,1.55 0 1,0 3.1,0a1.55,1.55 0 1,0 -3.1,0M113.04,341.62a1.55,1.55 0 1,0 3.1,0a1.55,1.55 0 1,0 -3.1,0M116.61,341.62a1.55,1.55 0 1,0 3.1,0a1.55,1.55 0 1,0 -3.1,0M120.18,341.62a1.55,1.55 0 1,0 3.1,0a1.55,1.55 0 1,0 -3.1,0M123.76,341.62a1.55,1.55 0 1,0 3.1,0a1.55,1.55 0 1,0 -3.1,0M127.33,341.62a1.55,1.55 0 1,0 3.1,0a1.55,1.55 0 1,0 -3.1,0M130.90,341.62a1.55,1.55 0 1,0 3.1,0a1.55,1.55 0 1,0 -3.1,0M134.47,341.62a1.55,1.55 0 1,0 3.1,0a1.55,1.55 0 1,0 -3.1,0M138.04,341.62a1.55,1.55 0 1,0 3.1,0a1.55,1.55 0 1,0 -3.1,0M141.62,341.62a1.55,1.55 0 1,0 3.1,0a1.55,1.55 0 1,0 -3.1,0M145.19,341.62a1.55,1.55 0 1,0 3.1,0a1.55,1.55 0 1,0 -3.1,0M148.76,341.62a1.55,1.55 0 1,0 3.1,0a1.55,1.55 0 1,0 -3.1,0M152.33,341.62a1.55,1.55 0 1,0 3.1,0a1.55,1.55 0 1,0 -3.1,0M155.90,341.62a1.55,1.55 0 1,0 3.1,0a1.55,1.55 0 1,0 -3.1,0M159.47,341.62a1.55,1.55 0 1,0 3.1,0a1.55,1.55 0 1,0 -3.1,0M163.05,341.62a1.55,1.55 0 1,0 3.1,0a1.55,1.55 0 1,0 -3.1,0M166.62,341.62a1.55,1.55 0 1,0 3.1,0a1.55,1.55 0 1,0 -3.1,0M170.19,341.62a1.55,1.55 0 1,0 3.1,0a1.55,1.55 0 1,0 -3.1,0M173.76,341.62a1.55,1.55 0 1,0 3.1,0a1.55,1.55 0 1,0 -3.1,0M177.33,341.62a1.55,1.55 0 1,0 3.1,0a1.55,1.55 0 1,0 -3.1,0M180.91,341.62a1.55,1.55 0 1,0 3.1,0a1.55,1.55 0 1,0 -3.1,0M184.48,341.62a1.55,1.55 0 1,0 3.1,0a1.55,1.55 0 1,0 -3.1,0M188.05,341.62a1.55,1.55 0 1,0 3.1,0a1.55,1.55 0 1,0 -3.1,0M191.62,341.45a1.55,1.55 0 1,0 3.1,0a1.55,1.55 0 1,0 -3.1,0M195.19,341.37a1.55,1.55 0 1,0 3.1,0a1.55,1.55 0 1,0 -3.1,0M198.77,341.30a1.55,1.55 0 1,0 3.1,0a1.55,1.55 0 1,0 -3.1,0M202.34,341.22a1.55,1.55 0 1,0 3.1,0a1.55,1.55 0 1,0 -3.1,0M205.91,341.16a1.55,1.55 0 1,0 3.1,0a1.55,1.55 0 1,0 -3.1,0M209.48,341.09a1.55,1.55 0 1,0 3.1,0a1.55,1.55 0 1,0 -3.1,0M213.05,341.03a1.55,1.55 0 1,0 3.1,0a1.55,1.55 0 1,0 -3.1,0M216.62,340.96a1.55,1.55 0 1,0 3.1,0a1.55,1.55 0 1,0 -3.1,0M220.20,340.90a1.55,1.55 0 1,0 3.1,0a1.55,1.55 0 1,0 -3.1,0M223.77,340.83a1.55,1.55 0 1,0 3.1,0a1.55,1.55 0 1,0 -3.1,0M227.34,340.77a1.55,1.55 0 1,0 3.1,0a1.55,1.55 0 1,0 -3.1,0M230.91,340.71a1.55,1.55 0 1,0 3.1,0a1.55,1.55 0 1,0 -3.1,0M234.48,340.65a1.55,1.55 0 1,0 3.1,0a1.55,1.55 0 1,0 -3.1,0M238.06,340.60a1.55,1.55 0 1,0 3.1,0a1.55,1.55 0 1,0 -3.1,0M241.63,340.54a1.55,1.55 0 1,0 3.1,0a1.55,1.55 0 1,0 -3.1,0M245.20,340.48a1.55,1.55 0 1,0 3.1,0a1.55,1.55 0 1,0 -3.1,0M248.77,340.42a1.55,1.55 0 1,0 3.1,0a1.55,1.55 0 1,0 -3.1,0M252.34,340.37a1.55,1.55 0 1,0 3.1,0a1.55,1.55 0 1,0 -3.1,0M255.92,340.31a1.55,1.55 0 1,0 3.1,0a1.55,1.55 0 1,0 -3.1,0M259.49,340.16a1.55,1.55 0 1,0 3.1,0a1.55,1.55 0 1,0 -3.1,0M263.06,340.00a1.55,1.55 0 1,0 3.1,0a1.55,1.55 0 1,0 -3.1,0M266.63,339.85a1.55,1.55 0 1,0 3.1,0a1.55,1.55 0 1,0 -3.1,0M270.20,339.69a1.55,1.55 0 1,0 3.1,0a1.55,1.55 0 1,0 -3.1,0M273.77,339.10a1.55,1.55 0 1,0 3.1,0a1.55,1.55 0 1,0 -3.1,0M277.35,338.89a1.55,1.55 0 1,0 3.1,0a1.55,1.55 0 1,0 -3.1,0M280.92,338.67a1.55,1.55 0 1,0 3.1,0a1.55,1.55 0 1,0 -3.1,0M284.49,338.10a1.55,1.55 0 1,0 3.1,0a1.55,1.55 0 1,0 -3.1,0M288.06,337.96a1.55,1.55 0 1,0 3.1,0a1.55,1.55 0 1,0 -3.1,0M291.63,337.83a1.55,1.55 0 1,0 3.1,0a1.55,1.55 0 1,0 -3.1,0M295.21,337.70a1.55,1.55 0 1,0 3.1,0a1.55,1.55 0 1,0 -3.1,0M298.78,337.53a1.55,1.55 0 1,0 3.1,0a1.55,1.55 0 1,0 -3.1,0M302.35,337.36a1.55,1.55 0 1,0 3.1,0a1.55,1.55 0 1,0 -3.1,0M305.92,337.19a1.55,1.55 0 1,0 3.1,0a1.55,1.55 0 1,0 -3.1,0M309.49,337.02a1.55,1.55 0 1,0 3.1,0a1.55,1.55 0 1,0 -3.1,0M313.07,336.85a1.55,1.55 0 1,0 3.1,0a1.55,1.55 0 1,0 -3.1,0M316.64,336.69a1.55,1.55 0 1,0 3.1,0a1.55,1.55 0 1,0 -3.1,0M320.21,336.49a1.55,1.55 0 1,0 3.1,0a1.55,1.55 0 1,0 -3.1,0M323.78,336.28a1.55,1.55 0 1,0 3.1,0a1.55,1.55 0 1,0 -3.1,0M327.35,336.07a1.55,1.55 0 1,0 3.1,0a1.55,1.55 0 1,0 -3.1,0M330.93,335.85a1.55,1.55 0 1,0 3.1,0a1.55,1.55 0 1,0 -3.1,0M334.50,335.64a1.55,1.55 0 1,0 3.1,0a1.55,1.55 0 1,0 -3.1,0M338.07,335.42a1.55,1.55 0 1,0 3.1,0a1.55,1.55 0 1,0 -3.1,0M341.64,335.21a1.55,1.55 0 1,0 3.1,0a1.55,1.55 0 1,0 -3.1,0M345.21,335.03a1.55,1.55 0 1,0 3.1,0a1.55,1.55 0 1,0 -3.1,0M348.78,334.88a1.55,1.55 0 1,0 3.1,0a1.55,1.55 0 1,0 -3.1,0M352.36,334.73a1.55,1.55 0 1,0 3.1,0a1.55,1.55 0 1,0 -3.1,0M355.93,334.55a1.55,1.55 0 1,0 3.1,0a1.55,1.55 0 1,0 -3.1,0M359.50,334.21a1.55,1.55 0 1,0 3.1,0a1.55,1.55 0 1,0 -3.1,0M363.07,333.86a1.55,1.55 0 1,0 3.1,0a1.55,1.55 0 1,0 -3.1,0M366.64,333.52a1.55,1.55 0 1,0 3.1,0a1.55,1.55 0 1,0 -3.1,0M370.22,333.17a1.55,1.55 0 1,0 3.1,0a1.55,1.55 0 1,0 -3.1,0M373.79,332.76a1.55,1.55 0 1,0 3.1,0a1.55,1.55 0 1,0 -3.1,0M377.36,332.33a1.55,1.55 0 1,0 3.1,0a1.55,1.55 0 1,0 -3.1,0M380.93,331.90a1.55,1.55 0 1,0 3.1,0a1.55,1.55 0 1,0 -3.1,0M384.50,331.47a1.55,1.55 0 1,0 3.1,0a1.55,1.55 0 1,0 -3.1,0M388.07,331.05a1.55,1.55 0 1,0 3.1,0a1.55,1.55 0 1,0 -3.1,0M391.65,330.79a1.55,1.55 0 1,0 3.1,0a1.55,1.55 0 1,0 -3.1,0M395.22,330.70a1.55,1.55 0 1,0 3.1,0a1.55,1.55 0 1,0 -3.1,0M398.79,330.47a1.55,1.55 0 1,0 3.1,0a1.55,1.55 0 1,0 -3.1,0M402.36,330.10a1.55,1.55 0 1,0 3.1,0a1.55,1.55 0 1,0 -3.1,0M405.93,329.88a1.55,1.55 0 1,0 3.1,0a1.55,1.55 0 1,0 -3.1,0M409.51,329.49a1.55,1.55 0 1,0 3.1,0a1.55,1.55 0 1,0 -3.1,0M413.08,328.89a1.55,1.55 0 1,0 3.1,0a1.55,1.55 0 1,0 -3.1,0M416.65,325.87a1.55,1.55 0 1,0 3.1,0a1.55,1.55 0 1,0 -3.1,0M420.22,325.39a1.55,1.55 0 1,0 3.1,0a1.55,1.55 0 1,0 -3.1,0M423.79,324.70a1.55,1.55 0 1,0 3.1,0a1.55,1.55 0 1,0 -3.1,0M427.37,324.31a1.55,1.55 0 1,0 3.1,0a1.55,1.55 0 1,0 -3.1,0M430.94,323.50a1.55,1.55 0 1,0 3.1,0a1.55,1.55 0 1,0 -3.1,0M434.51,322.76a1.55,1.55 0 1,0 3.1,0a1.55,1.55 0 1,0 -3.1,0M438.08,322.02a1.55,1.55 0 1,0 3.1,0a1.55,1.55 0 1,0 -3.1,0M441.65,321.27a1.55,1.55 0 1,0 3.1,0a1.55,1.55 0 1,0 -3.1,0M445.22,320.69a1.55,1.55 0 1,0 3.1,0a1.55,1.55 0 1,0 -3.1,0M448.80,320.26a1.55,1.55 0 1,0 3.1,0a1.55,1.55 0 1,0 -3.1,0M452.37,319.83a1.55,1.55 0 1,0 3.1,0a1.55,1.55 0 1,0 -3.1,0M455.94,319.40a1.55,1.55 0 1,0 3.1,0a1.55,1.55 0 1,0 -3.1,0M459.51,318.86a1.55,1.55 0 1,0 3.1,0a1.55,1.55 0 1,0 -3.1,0M463.08,318.32a1.55,1.55 0 1,0 3.1,0a1.55,1.55 0 1,0 -3.1,0M466.66,317.77a1.55,1.55 0 1,0 3.1,0a1.55,1.55 0 1,0 -3.1,0M470.23,317.25a1.55,1.55 0 1,0 3.1,0a1.55,1.55 0 1,0 -3.1,0M473.80,316.74a1.55,1.55 0 1,0 3.1,0a1.55,1.55 0 1,0 -3.1,0M477.37,316.10a1.55,1.55 0 1,0 3.1,0a1.55,1.55 0 1,0 -3.1,0M480.94,315.66a1.55,1.55 0 1,0 3.1,0a1.55,1.55 0 1,0 -3.1,0M484.52,315.05a1.55,1.55 0 1,0 3.1,0a1.55,1.55 0 1,0 -3.1,0M488.09,313.66a1.55,1.55 0 1,0 3.1,0a1.55,1.55 0 1,0 -3.1,0M491.66,313.06a1.55,1.55 0 1,0 3.1,0a1.55,1.55 0 1,0 -3.1,0M495.23,312.61a1.55,1.55 0 1,0 3.1,0a1.55,1.55 0 1,0 -3.1,0M498.80,311.89a1.55,1.55 0 1,0 3.1,0a1.55,1.55 0 1,0 -3.1,0M502.38,310.86a1.55,1.55 0 1,0 3.1,0a1.55,1.55 0 1,0 -3.1,0M505.95,310.37a1.55,1.55 0 1,0 3.1,0a1.55,1.55 0 1,0 -3.1,0M509.52,309.88a1.55,1.55 0 1,0 3.1,0a1.55,1.55 0 1,0 -3.1,0M513.09,308.99a1.55,1.55 0 1,0 3.1,0a1.55,1.55 0 1,0 -3.1,0M516.66,308.22a1.55,1.55 0 1,0 3.1,0a1.55,1.55 0 1,0 -3.1,0M520.23,307.50a1.55,1.55 0 1,0 3.1,0a1.55,1.55 0 1,0 -3.1,0M523.81,306.88a1.55,1.55 0 1,0 3.1,0a1.55,1.55 0 1,0 -3.1,0M527.38,306.50a1.55,1.55 0 1,0 3.1,0a1.55,1.55 0 1,0 -3.1,0M530.95,306.10a1.55,1.55 0 1,0 3.1,0a1.55,1.55 0 1,0 -3.1,0" fill="#3A69AC"/>
<clipPath id="lc"><rect x="530" y="0" width="29.3" height="400"/></clipPath>
<g clip-path="url(#lc)" font-weight="bold" font-size="4.5" stroke-width="0.35">
<text x="535.2" y="115.9" fill="#16A37A" stroke="#16A37A" textLength="27.6" lengthAdjust="spacingAndGlyphs">ACUMULADO</text>
<text x="535.2" y="306.95" fill="#3A69AC" stroke="#3A69AC" textLength="20.6" lengthAdjust="spacingAndGlyphs">DECESOS</text>
<text x="535.2" y="339.35" fill="#CC513F" stroke="#CC513F" textLength="35.4" lengthAdjust="spacingAndGlyphs">CASOS DIARIOS</text>
</g>
</svg>
</body></html>
